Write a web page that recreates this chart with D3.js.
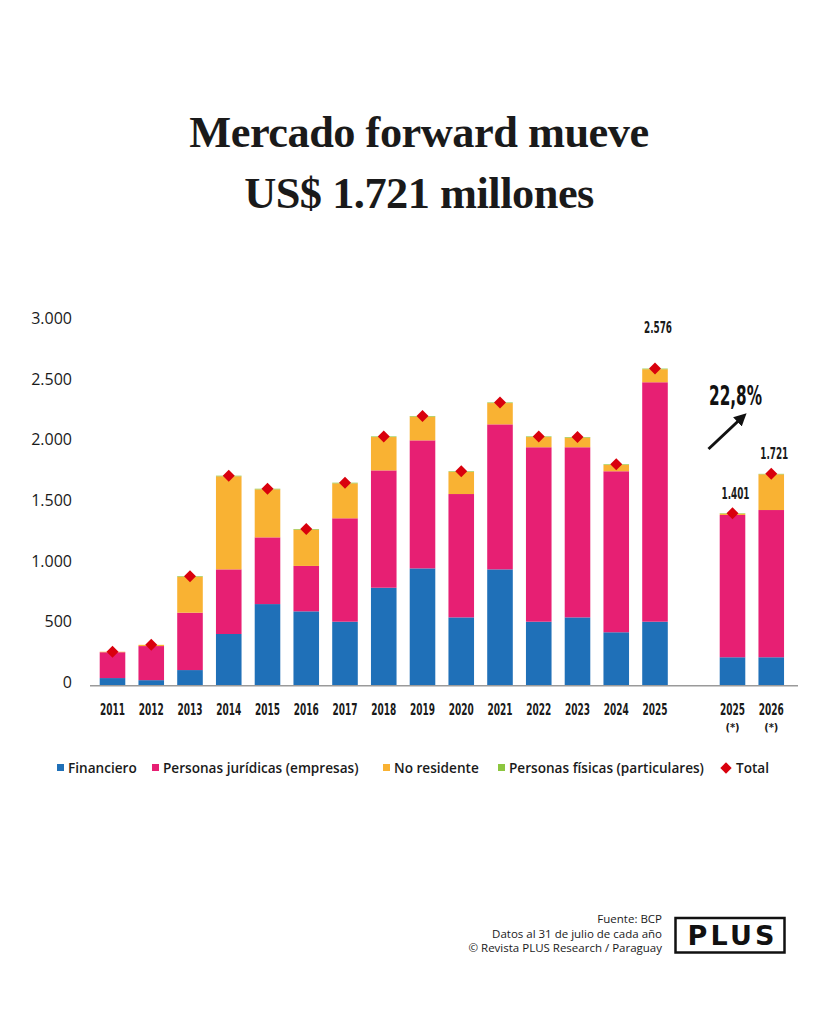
<!DOCTYPE html>
<html>
<head>
<meta charset="utf-8">
<script src="https://cdn.jsdelivr.net/npm/d3@7"></script>
<style>
  html, body { margin: 0; padding: 0; background: #ffffff; }
  svg { display: block; }
</style>
</head>
<body>
<svg id="chart" width="819" height="1024"></svg>
<script>
// ---------------- DATA ----------------
const categories = ["2011","2012","2013","2014","2015","2016","2017","2018","2019","2020","2021","2022","2023","2024","2025","2025 (*)","2026 (*)"];
const financiero  = [62, 45, 127, 420, 663, 604, 520, 796, 953, 555, 945, 520, 555, 434, 520, 231, 231];
const juridicas   = [210, 277, 466, 525, 542, 369, 840, 953, 1040, 1002, 1178, 1417, 1382, 1308, 1945, 1156, 1196];
const noResidente = [4, 10, 292, 756, 390, 295, 284, 271, 193, 180, 173, 83, 78, 52, 106, 10, 290];
const fisicas     = [0, 0, 5, 5, 5, 5, 5, 5, 5, 5, 5, 5, 5, 5, 5, 4, 4];
const seriesNames = ["Financiero", "Personas jurídicas (empresas)", "No residente", "Personas físicas (particulares)"];
const seriesKeys  = ["financiero", "juridicas", "noResidente", "fisicas"];
const yTicks = [0, 500, 1000, 1500, 2000, 2500, 3000];
const labeledCategories = ["2025", "2025 (*)", "2026 (*)"];
const growthLabel = "22,8%";
const titleLines = ["Mercado forward mueve", "US$ 1.721 millones"];
const footerLines = ["Fuente: BCP", "Datos al 31 de julio de cada año", "© Revista PLUS Research / Paraguay"];

// ---------------- STYLE ----------------
const colors = { financiero: "#1f70b8", juridicas: "#e71f73", noResidente: "#f9b233", fisicas: "#8cc63f", total: "#d9000d" };
const narrow = "'Liberation Sans Narrow', 'DejaVu Sans Condensed', 'Roboto', sans-serif";
const sans = "'Open Sans', 'Noto Sans', sans-serif";

const locale = d3.formatLocale({ decimal: ",", thousands: ".", grouping: [3], currency: ["", ""] });
const fmt = locale.format(",d");

const rows = categories.map((c, i) => ({
  cat: c,
  financiero: financiero[i],
  juridicas: juridicas[i],
  noResidente: noResidente[i],
  fisicas: fisicas[i],
  total: financiero[i] + juridicas[i] + noResidente[i] + fisicas[i]
}));

const svg = d3.select("#chart");

// ---------------- SCALES ----------------
const slots = categories.slice(0, 15).concat(["__gap__"], categories.slice(15));
const x = d3.scaleBand().domain(slots).range([93.125, 93.125 + 18 * 38.75]).paddingInner(0.34).paddingOuter(0.17);
const y = d3.scaleLinear().domain([0, 3000]).range([685.7, 685.7 - 3000 * 0.1231]);

// ---------------- TITLE ----------------
const title = svg.append("g");
const tl = title.selectAll("text").data(titleLines).join("text")
  .attr("x", 419)
  .attr("y", (d, i) => [146.5, 208][i])
  .attr("text-anchor", "middle")
  .style("font-family", "'Liberation Serif', 'DejaVu Serif', serif")
  .style("font-weight", "bold")
  .style("font-size", "40px")
  .style("fill", "#1a1a1a")
  .text(d => d);
const w0 = tl.nodes()[0].getComputedTextLength();
const fs = 40 * 470 / w0;
tl.style("font-size", fs + "px").style("letter-spacing", "-0.5px");

// ---------------- Y AXIS LABELS ----------------
svg.append("g").selectAll("text").data(yTicks).join("text")
  .attr("x", 72)
  .attr("y", d => y(d) + 2.3 + 5.3 * d / 3000)
  .attr("text-anchor", "end")
  .style("font-family", sans)
  .style("font-size", "16px")
  .style("fill", "#1a1a1a")
  .text(d => fmt(d));

// ---------------- BARS ----------------
const stack = d3.stack().keys(seriesKeys)(rows);
svg.append("g").selectAll("g").data(stack).join("g")
  .attr("fill", d => colors[d.key])
  .selectAll("rect").data(d => d).join("rect")
  .attr("x", d => x(d.data.cat))
  .attr("width", x.bandwidth())
  .attr("y", d => y(d[1]))
  .attr("height", d => y(d[0]) - y(d[1]));

// axis line
svg.append("line")
  .attr("x1", 90).attr("x2", 798)
  .attr("y1", y(0)).attr("y2", y(0))
  .attr("stroke", "#9a9a9a").attr("stroke-width", 1.5);

// ---------------- TOTAL DIAMONDS ----------------
const dsz = 8.5;
svg.append("g").selectAll("rect").data(rows).join("rect")
  .attr("x", -dsz / 2).attr("y", -dsz / 2)
  .attr("width", dsz).attr("height", dsz)
  .attr("fill", colors.total)
  .attr("transform", d => `translate(${x(d.cat) + x.bandwidth() / 2},${y(d.total)}) rotate(45)`);

// ---------------- X LABELS ----------------
const xg = svg.append("g").selectAll("g").data(categories).join("g")
  .attr("transform", d => `translate(${x(d) + x.bandwidth() / 2},0)`);
xg.append("text")
  .attr("x", 0).attr("y", 714.5)
  .attr("text-anchor", "middle")
  .attr("textLength", 25).attr("lengthAdjust", "spacingAndGlyphs")
  .style("font-family", narrow)
  .style("font-weight", "bold")
  .style("font-size", "15.5px")
  .style("fill", "#1a1a1a")
  .text(d => d.split(" ")[0]);
xg.filter(d => d.includes("(*)")).append("text")
  .attr("x", 0).attr("y", 731)
  .attr("text-anchor", "middle")
  .style("font-family", narrow)
  .style("font-weight", "bold")
  .style("font-size", "11px")
  .style("fill", "#1a1a1a")
  .text("(*)");

// ---------------- VALUE LABELS ----------------
const labelOffset = { "2025": 36, "2025 (*)": 14, "2026 (*)": 15 };
svg.append("g").selectAll("text").data(rows.filter(r => labeledCategories.includes(r.cat))).join("text")
  .attr("x", d => x(d.cat) + x.bandwidth() / 2 + 3)
  .attr("y", d => y(d.total) - labelOffset[d.cat])
  .attr("text-anchor", "middle")
  .attr("textLength", 28).attr("lengthAdjust", "spacingAndGlyphs")
  .style("font-family", narrow)
  .style("font-weight", "bold")
  .style("font-size", "15.5px")
  .style("fill", "#1a1a1a")
  .text(d => fmt(d.total));

// ---------------- GROWTH ANNOTATION ----------------
svg.append("defs").append("marker")
  .attr("id", "arrow").attr("viewBox", "0 0 10 10")
  .attr("refX", 5).attr("refY", 5)
  .attr("markerWidth", 4.2).attr("markerHeight", 4.2)
  .attr("orient", "auto")
  .append("path").attr("d", "M0,0 L10,5 L0,10 Z").attr("fill", "#111");
svg.append("line")
  .attr("x1", 708.5).attr("y1", 449)
  .attr("x2", 742).attr("y2", 417.5)
  .attr("stroke", "#111").attr("stroke-width", 3)
  .attr("marker-end", "url(#arrow)");
svg.append("text")
  .attr("x", 735.5).attr("y", 405)
  .attr("text-anchor", "middle")
  .style("font-family", narrow)
  .style("font-weight", "bold")
  .style("font-size", "26px")
  .style("fill", "#111")
  .attr("textLength", 53).attr("lengthAdjust", "spacingAndGlyphs")
  .text(growthLabel);

// ---------------- LEGEND ----------------
const legendX = [57, 152, 383, 498];
const leg = svg.append("g").selectAll("g").data(seriesKeys).join("g")
  .attr("transform", (d, i) => `translate(${legendX[i]},768)`);
leg.append("rect").attr("x", 0).attr("y", -4).attr("width", 7).attr("height", 7).attr("fill", d => colors[d]);
leg.append("text").attr("x", 11).attr("y", 5)
  .style("font-family", sans).style("font-weight", 600).style("font-size", "13.6px").style("fill", "#1a1a1a")
  .text((d, i) => seriesNames[i]);
const legT = svg.append("g").attr("transform", "translate(726,768)");
legT.append("rect").attr("x", -4).attr("y", -4).attr("width", 8).attr("height", 8)
  .attr("fill", colors.total).attr("transform", "rotate(45)");
legT.append("text").attr("x", 10).attr("y", 5)
  .style("font-family", sans).style("font-weight", 600).style("font-size", "13.6px").style("fill", "#1a1a1a")
  .text("Total");

// ---------------- FOOTER ----------------
svg.append("g").selectAll("text").data(footerLines).join("text")
  .attr("x", 662).attr("y", (d, i) => 923 + i * 14.5)
  .attr("text-anchor", "end")
  .style("font-family", sans).style("font-size", "11.5px").style("fill", "#1a1a1a")
  .text(d => d);
svg.append("rect").attr("x", 675.5).attr("y", 918).attr("width", 109).attr("height", 34.5)
  .attr("fill", "none").attr("stroke", "#111").attr("stroke-width", 2.5);
svg.append("text").attr("x", 731).attr("y", 945)
  .attr("text-anchor", "middle")
  .style("font-family", "'DejaVu Sans', sans-serif").style("font-weight", "bold").style("font-size", "27px")
  .style("fill", "#111")
  .attr("textLength", 87).attr("lengthAdjust", "spacing")
  .text("PLUS");
</script>
</body>
</html>
